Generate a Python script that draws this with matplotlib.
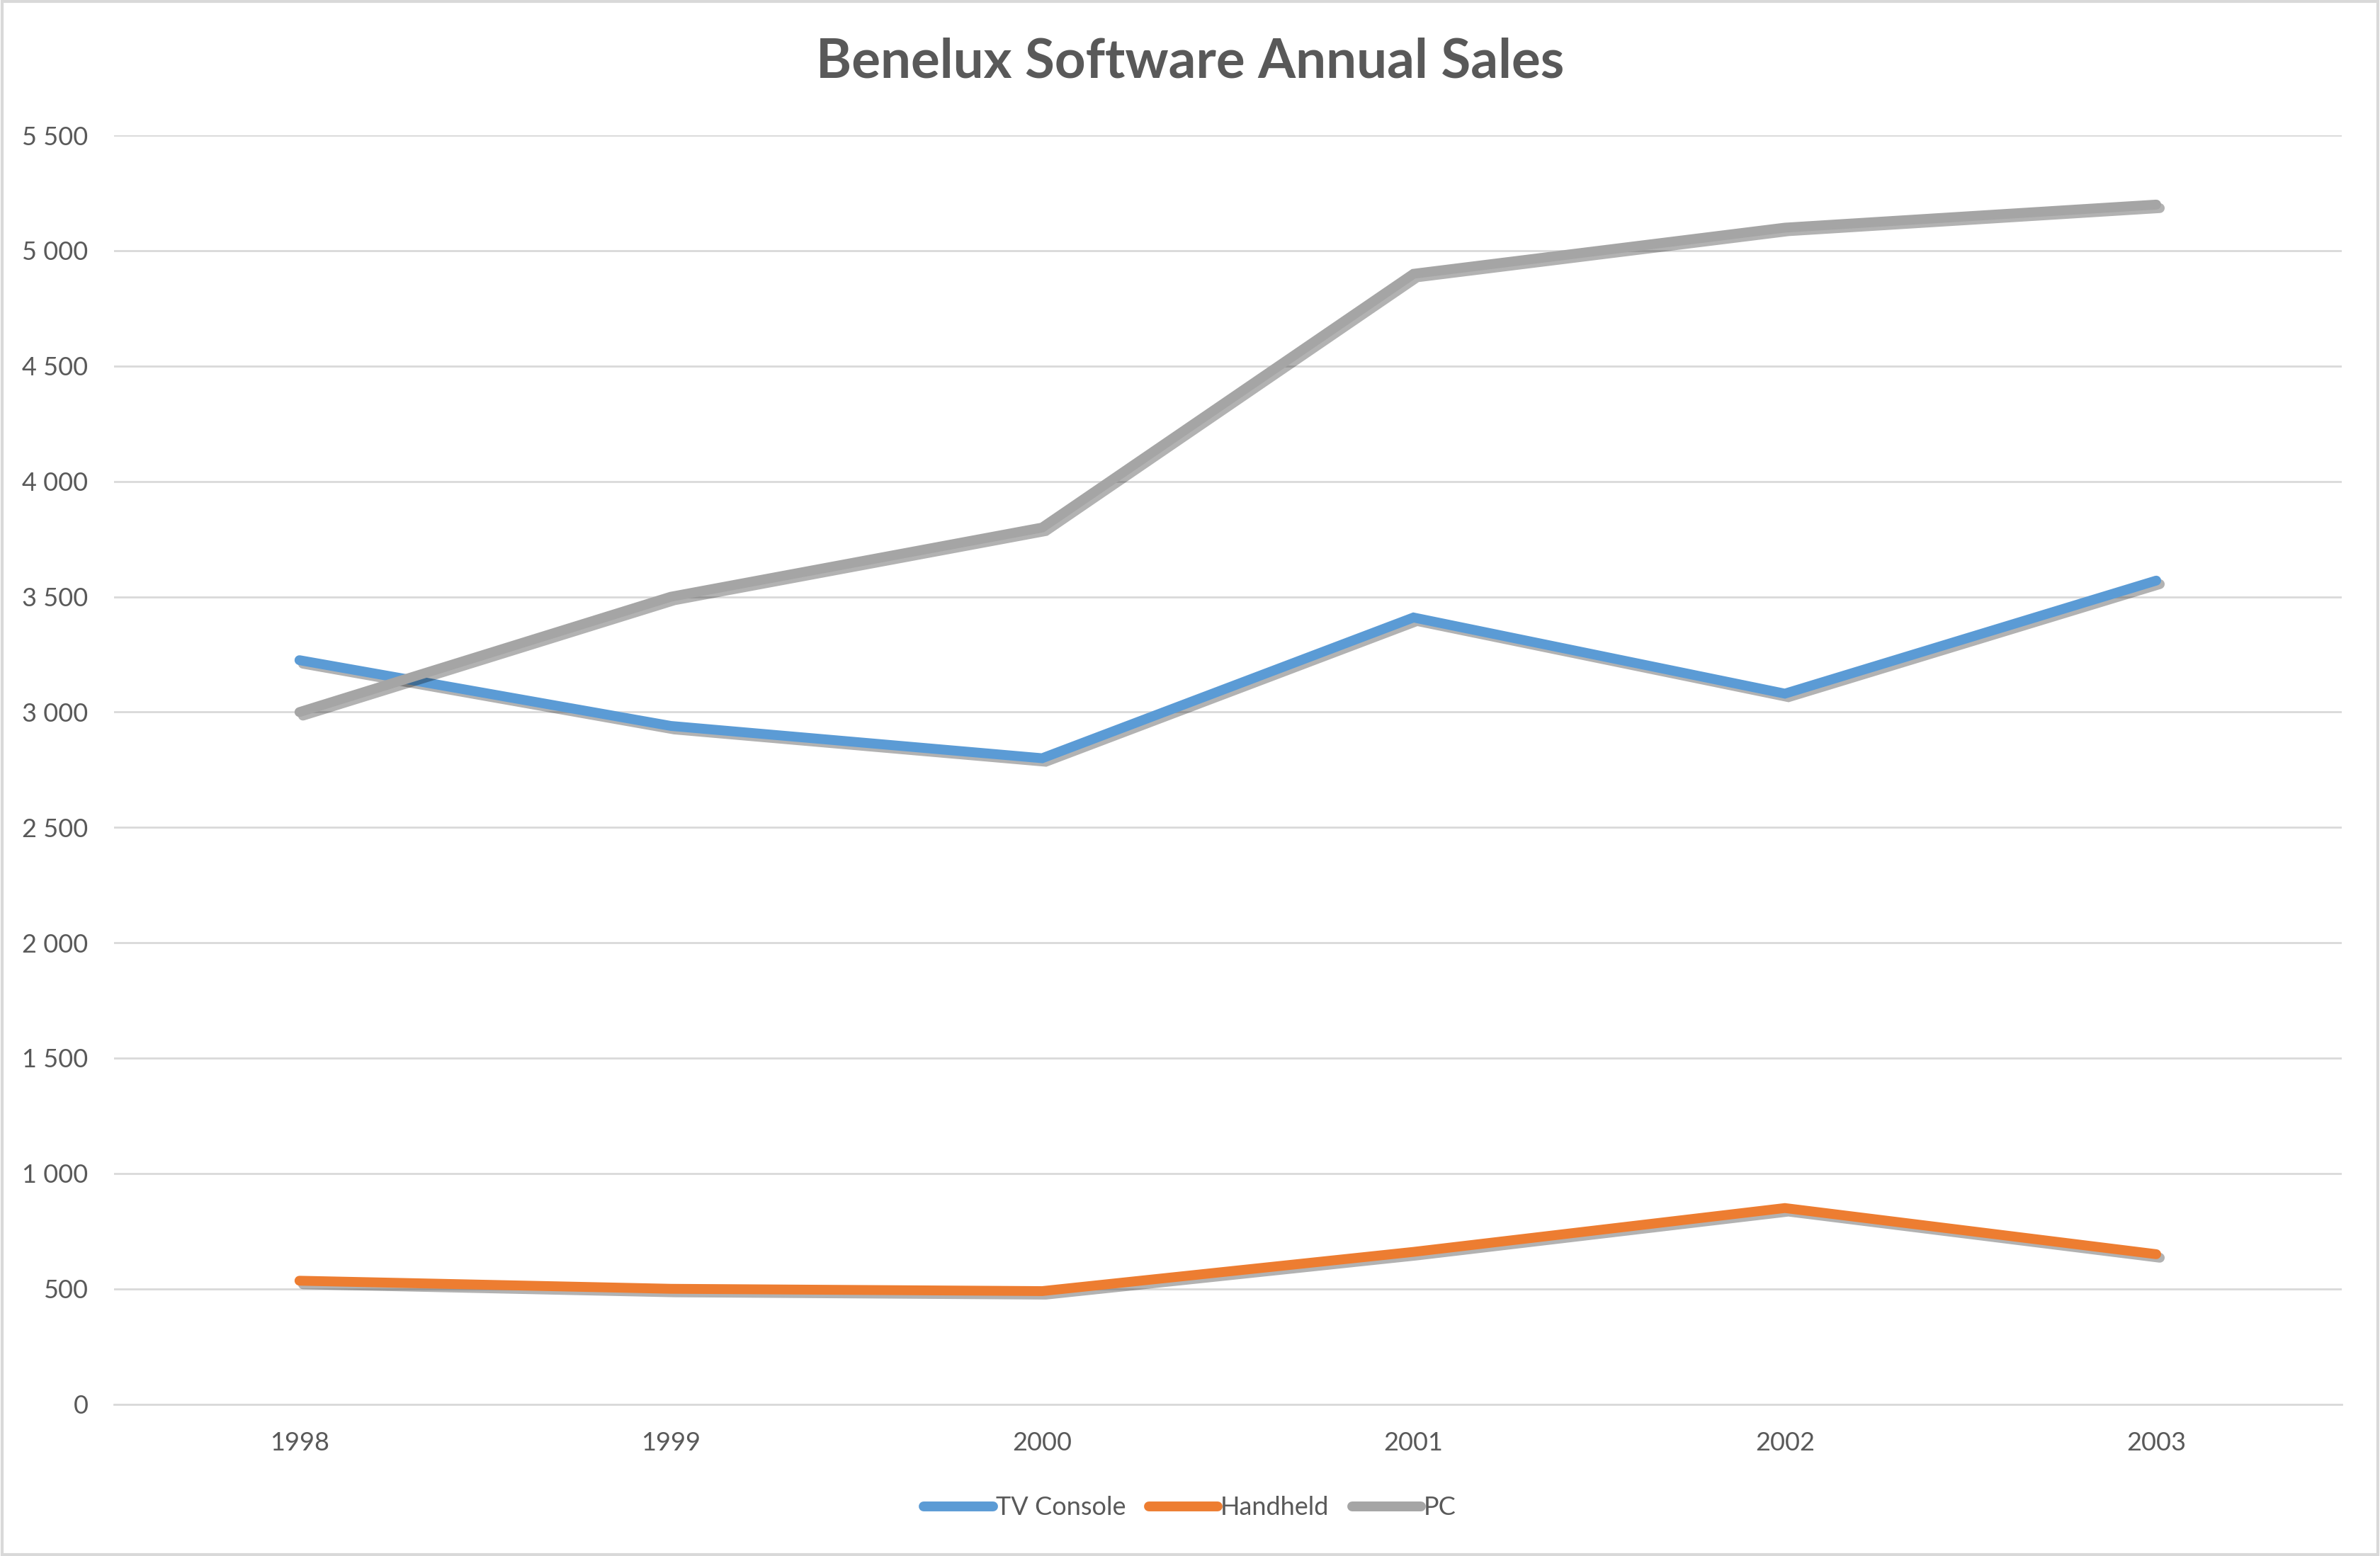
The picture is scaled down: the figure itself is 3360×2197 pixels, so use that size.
import numpy as np
import matplotlib
matplotlib.use("Agg")
from matplotlib import pyplot as plt
from matplotlib import patheffects as pe
from matplotlib.patches import Rectangle
from matplotlib.ticker import FuncFormatter

# Chart data
years = ["1998", "1999", "2000", "2001", "2002", "2003"]
tv_console = [3225, 2940, 2800, 3410, 3080, 3570]
handheld = [535, 500, 490, 660, 850, 650]
pc = [3000, 3500, 3800, 4900, 5100, 5200]

series_names = ["TV Console", "Handheld", "PC"]
colors = ["#5b9bd5", "#ed7d31", "#a5a5a5"]
text_color = "#595959"
grid_color = "#d9d9d9"

plt.rcParams['font.family'] = ['Lato', 'DejaVu Sans']

fig = plt.figure(figsize=(16.8, 10.985), dpi=200)
ax = fig.add_axes([0.0478, 0.0976, 0.9362, 0.8154])

x = np.arange(len(years))
shadow = [pe.SimpleLineShadow(offset=(1.8, -1.8), shadow_color="black", alpha=0.3), pe.Normal()]
for name, vals, c in zip(series_names, [tv_console, handheld, pc], colors):
    ax.plot(x, vals, color=c, lw=5, label=name, solid_capstyle="round",
            solid_joinstyle="miter", path_effects=shadow, zorder=3)

ax.set_xlim(-0.5, len(years) - 0.5)
ax.set_ylim(0, 5500)
ax.set_yticks(np.arange(0, 5501, 500))
ax.yaxis.set_major_formatter(FuncFormatter(lambda v, p: "{:,}".format(int(v)).replace(",", " ")))
ax.set_xticks(x)
ax.set_xticklabels(years)

ax.grid(axis="y", color=grid_color, lw=1.0, zorder=0)
ax.set_axisbelow(True)
for s in ["top", "right", "left"]:
    ax.spines[s].set_visible(False)
ax.spines["bottom"].set_color(grid_color)
ax.spines["bottom"].set_linewidth(1.0)
ax.tick_params(axis="both", length=0, labelsize=13, labelcolor=text_color)
ax.tick_params(axis="y", pad=13)
ax.tick_params(axis="x", pad=14)

fig.text(0.5, 0.96, "Benelux Software Annual Sales", ha="center", va="center",
         fontsize=27.5, fontweight="bold", color=text_color)

leg = fig.legend(loc="center", bbox_to_anchor=(0.5, 0.031), ncol=3, frameon=False,
                 fontsize=13, handlelength=2.7, handletextpad=0.1, columnspacing=0.9,
                 labelcolor=text_color)
for h in leg.get_lines():
    h.set_linewidth(5)
    h.set_path_effects([])

# Light border round the chart
fig.patches.append(Rectangle((0.001, 0.001), 0.998, 0.998, transform=fig.transFigure,
                             fill=False, edgecolor=grid_color, lw=1.5))

plt.savefig("out.png", dpi=200)
plt.close()
